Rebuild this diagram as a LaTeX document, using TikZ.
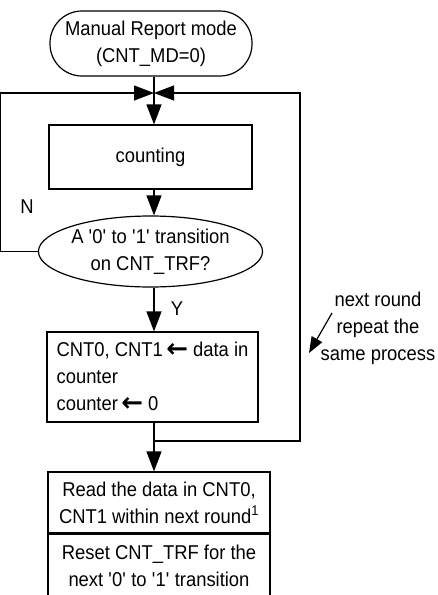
\documentclass[tikz,border=0pt]{standalone}
\usepackage{fontspec}
\setmainfont[FakeStretch=0.92]{Liberation Sans}
\newfontfamily\arrfont{DejaVu Sans}
\usetikzlibrary{arrows.meta,shapes.geometric}
\newcommand\lar{\,{\arrfont\bfseries\raisebox{-1pt}{\scalebox{1.3}{←}}}}
\newcommand\sq{\textquotesingle}
\begin{document}
\begin{tikzpicture}[x=1pt,y=1pt, line width=1.2pt,
  every node/.style={font=\fontsize{20}{27}\selectfont, inner sep=0pt},
  box/.style={draw, rectangle},
  arr/.style={-{Triangle[length=20pt,width=15pt]}},
  smallarr/.style={-{Triangle[length=16pt,width=12pt]}}]
\useasboundingbox (0,0) rectangle (437,-595);
\node[box, rounded corners=32pt, minimum width=202pt, minimum height=65pt, align=center] (start) at (151,-43.5) {Manual Report mode\\(CNT\_MD=0)};
\coordinate (j1) at (154,-93);
\node[box, minimum width=203pt, minimum height=64pt] (count) at (150.5,-157) {counting};
\node[draw, ellipse, minimum width=203pt, minimum height=71pt, align=center] (dec) at (150.5,-251.5) {A \sq0\sq{} to \sq1\sq{} transition\\on CNT\_TRF?};
\node[box, minimum width=211pt, minimum height=90pt] (upd) at (152.5,-377) {};
\node[anchor=west, align=left] (updtext) at (56,-377) {CNT0, CNT1\lar{} data in\\counter\\counter\lar{} 0};
\node[box, minimum width=222pt, minimum height=61pt, align=center] (rd) at (159,-502.5) {Read the data in CNT0,\\CNT1 within next round\textsuperscript{1}};
\node[box, minimum width=222pt, minimum height=63pt, align=center, anchor=north] (rs) at (rd.south) {Reset CNT\_TRF for the\\next \sq0\sq{} to \sq1\sq{} transition};
\coordinate (j2) at (154,-441);
\draw[arr] (start.south -| j1) -- (count.north -| j1);
\draw[arr] (count.south -| j1) -- (dec.north -| j1);
\draw[arr] (dec.south -| j1) -- (upd.north -| j1);
\draw (upd.south -| j2) -- (j2);
\draw[arr] (j2) -- (rd.north -| j2);
\draw[arr] (j2) -- ++(146,0) |- (j1);
\draw[arr] (dec.west) -- ++(-37,0) |- (j1);
\node (N) at (27,-207) {N};
\node (Y) at (177,-309) {Y};
\node[align=center] (note) at (378,-328) {next round\\repeat the\\same process};
\coordinate (na) at (332,-313);
\coordinate (nb) at (309,-353);
\draw[smallarr] (na) -- (nb);
\end{tikzpicture}
\end{document}
